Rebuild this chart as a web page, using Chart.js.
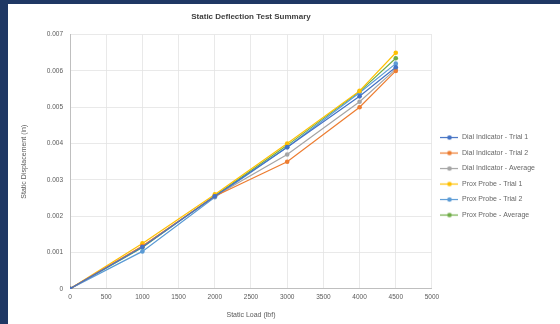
<!DOCTYPE html>
<html>
<head>
<meta charset="utf-8">
<script src="https://cdn.jsdelivr.net/npm/chart.js@4.4.1/dist/chart.umd.min.js"></script>
<style>
  html, body { margin: 0; padding: 0; }
  body { width: 560px; height: 324px; background: #1f3864; position: relative; overflow: hidden; }
  #wrap { position: absolute; left: 8px; top: 4px; width: 552px; height: 320px; background: #ffffff; }
  canvas { display: block; }
</style>
</head>
<body>
<div id="wrap"><canvas id="c" width="552" height="320"></canvas></div>
<script>
// Static load steps (lbf)
const loads = [0, 1000, 2000, 3000, 4000, 4500];

// Measured displacement (in) for each load step
const dialTrial1 = [0, 0.00115, 0.00255, 0.00390, 0.00530, 0.00610];
const dialTrial2 = [0, 0.00118, 0.00255, 0.00350, 0.00500, 0.00600];
const dialAverage = [0, 0.00117, 0.00255, 0.00370, 0.00515, 0.00605];
const proxTrial1 = [0, 0.00125, 0.00260, 0.00400, 0.00545, 0.00650];
const proxTrial2 = [0, 0.00103, 0.00252, 0.00390, 0.00540, 0.00620];
const proxAverage = [0, 0.00114, 0.00256, 0.00395, 0.00543, 0.00635];

const seriesNames = [
  'Dial Indicator - Trial 1',
  'Dial Indicator - Trial 2',
  'Dial Indicator - Average',
  'Prox Probe - Trial 1',
  'Prox Probe - Trial 2',
  'Prox Probe - Average'
];
const seriesValues = [dialTrial1, dialTrial2, dialAverage, proxTrial1, proxTrial2, proxAverage];
const seriesColors = ['#4472C4', '#ED7D31', '#A5A5A5', '#FFC000', '#5B9BD5', '#70AD47'];

// Axis ticks
const xTickStep = 500, xMax = 5000;
const yTickStep = 0.001, yMax = 0.007;

// Legend swatch: short line with a marker in the middle
function swatch(color) {
  const c = document.createElement('canvas');
  c.width = 18; c.height = 7;
  const g = c.getContext('2d');
  g.strokeStyle = color; g.lineWidth = 1.2;
  g.beginPath(); g.moveTo(0, 3.5); g.lineTo(18, 3.5); g.stroke();
  g.fillStyle = color;
  g.beginPath(); g.arc(9, 3.5, 2.3, 0, Math.PI * 2); g.fill();
  return c;
}

const legendImages = seriesColors.map(swatch);

const datasets = seriesNames.map((name, i) => ({
  label: name,
  data: loads.map((x, k) => ({ x: x, y: seriesValues[i][k] })),
  showLine: true,
  borderColor: seriesColors[i],
  backgroundColor: seriesColors[i],
  borderWidth: 1.2,
  pointRadius: 2.3,
  pointHoverRadius: 2.3,
  pointBorderWidth: 0,
  pointStyle: 'circle',
  tension: 0
}));

const textColor = '#595959';
const fontFamily = '"Liberation Sans", Arial, sans-serif';

new Chart(document.getElementById('c'), {
  type: 'scatter',
  data: { datasets: datasets },
  options: {
    responsive: false,
    animation: false,
    layout: { padding: { left: 12, right: 15, top: 0, bottom: 5 } },
    plugins: {
      title: {
        display: true,
        text: 'Static Deflection Test Summary',
        color: '#404040',
        fullSize: false,
        font: { family: fontFamily, size: 8, weight: 'bold' },
        padding: { top: 8, bottom: 13 }
      },
      legend: {
        position: 'right',
        fullSize: false,
        title: { display: true, text: '', font: { size: 1 }, padding: { top: 14, bottom: 14 } },
        labels: {
          usePointStyle: true,
          pointStyleWidth: 18,
          padding: 8.5,
          color: textColor,
          font: { family: fontFamily, size: 7 },
          generateLabels: (chart) => chart.data.datasets.map((d, i) => ({
            text: d.label,
            pointStyle: legendImages[i],
            fillStyle: d.borderColor,
            strokeStyle: d.borderColor,
            lineWidth: 0,
            hidden: false,
            datasetIndex: i
          }))
        }
      },
      tooltip: { enabled: false }
    },
    scales: {
      x: {
        type: 'linear',
        min: 0,
        max: xMax,
        ticks: {
          stepSize: xTickStep,
          color: textColor,
          font: { family: fontFamily, size: 6.5 },
          padding: 5,
          maxRotation: 0,
          callback: (v) => String(v)
        },
        grid: { color: '#e3e3e3', lineWidth: 0.8, drawTicks: false },
        border: { color: '#bfbfbf' },
        title: { display: true, text: 'Static Load (lbf)', color: textColor, font: { family: fontFamily, size: 7 }, padding: { top: 4, bottom: 0 } }
      },
      y: {
        type: 'linear',
        min: 0,
        max: yMax,
        afterFit: (s) => { s.width = 50; },
        ticks: {
          stepSize: yTickStep,
          color: textColor,
          font: { family: fontFamily, size: 6.5 },
          padding: 7,
          callback: (v) => (v === 0 ? '0' : v.toFixed(3))
        },
        grid: { color: '#e3e3e3', lineWidth: 0.8, drawTicks: false },
        border: { color: '#bfbfbf' },
        title: { display: true, text: 'Static Displacement (in)', color: textColor, font: { family: fontFamily, size: 7 }, padding: { top: 0, bottom: 2 } }
      }
    }
  }
});
</script>
</body>
</html>
